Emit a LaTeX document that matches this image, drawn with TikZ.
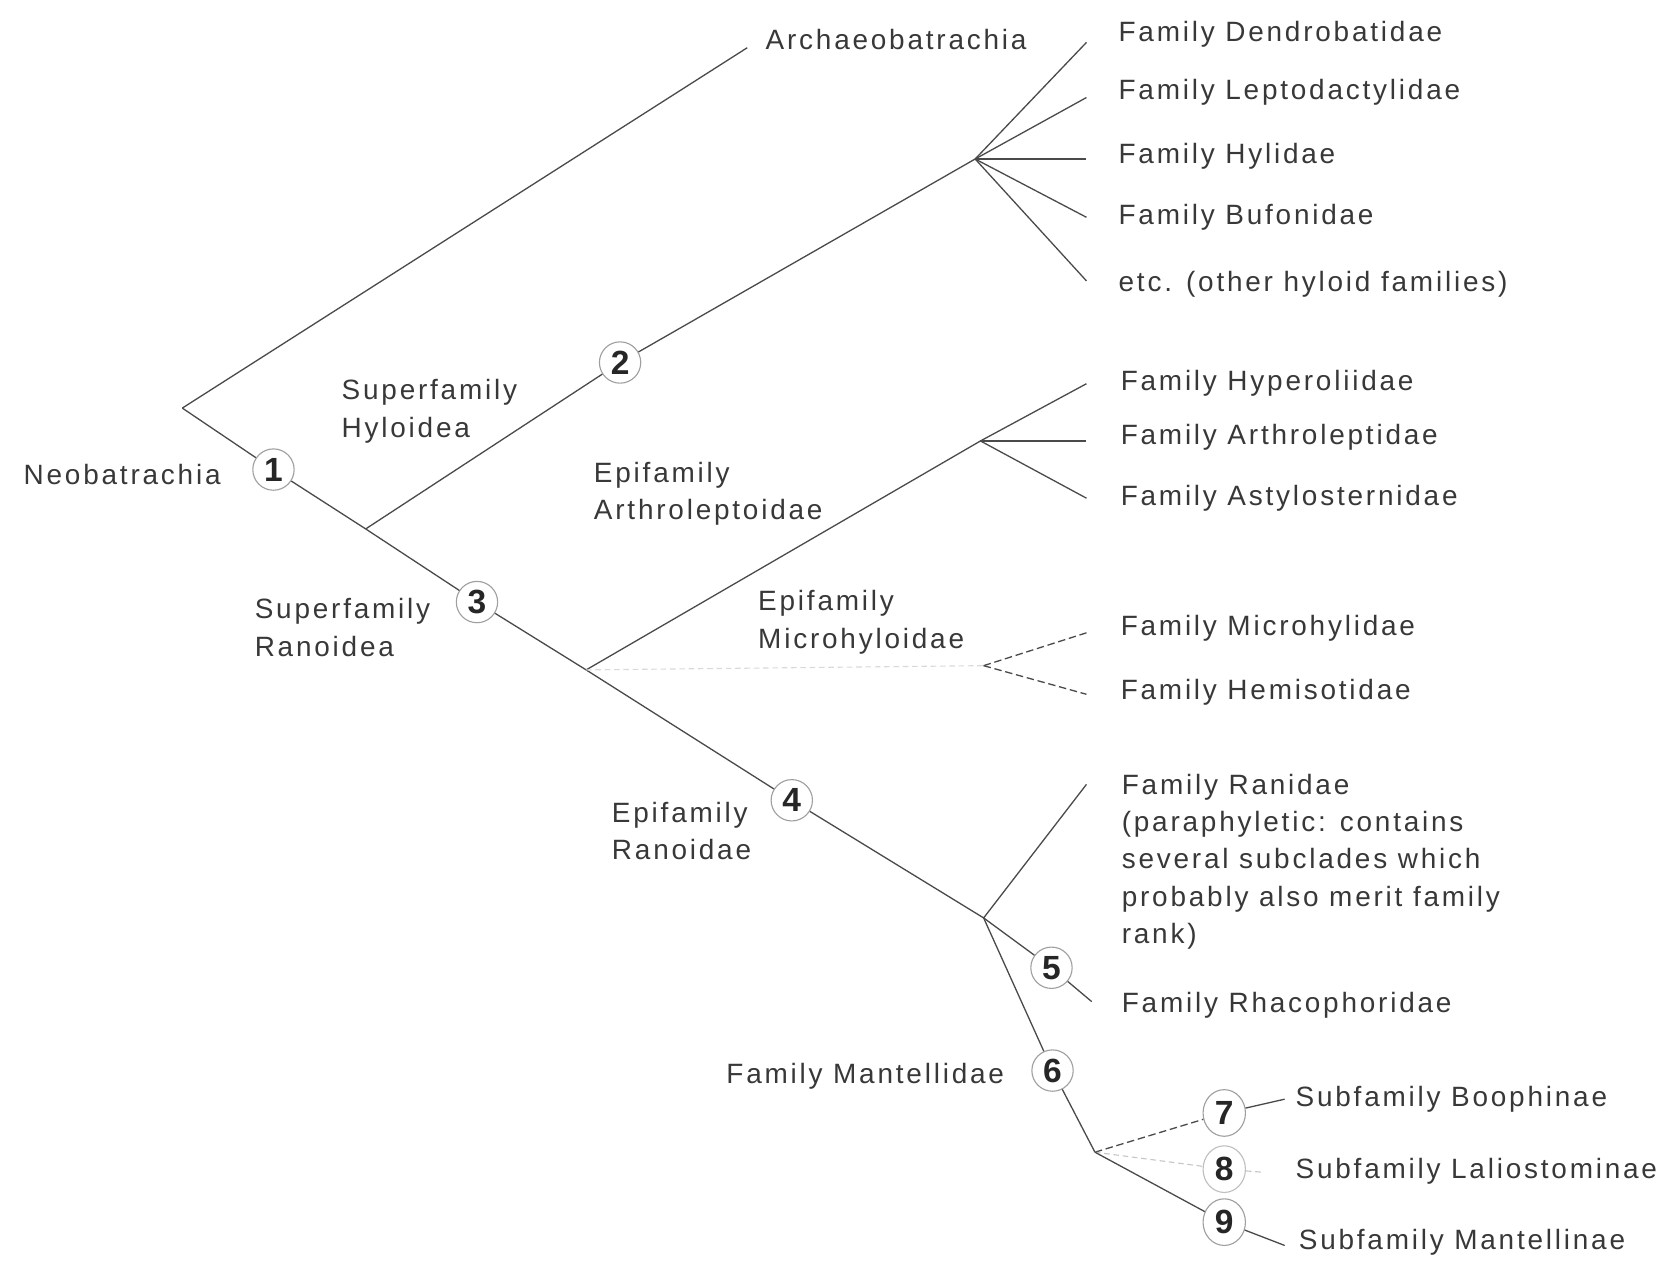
\documentclass[tikz,border=0pt]{standalone}
\usepackage{fontspec}
\newfontfamily\lblfont[LetterSpace=10]{Liberation Sans}
\usetikzlibrary{shapes.geometric}
\definecolor{inkgray}{HTML}{4A4A4A}
\definecolor{txtgray}{HTML}{383838}
\begin{document}
\begin{tikzpicture}[
  x=0.02cm, y=-0.02cm,
  branch/.style={draw=inkgray, line width=0.7pt},
  dashbranch/.style={branch, dash pattern=on 4pt off 2pt},
  faint/.style={draw=gray!45, line width=0.6pt, dash pattern=on 3pt off 2pt},
  cnode/.style={circle, draw=gray!75, line width=0.6pt, minimum size=0.78cm, inner sep=0pt,
    text=black!85, font=\lblfont\fontsize{18}{18}\selectfont\bfseries},
  oval/.style={cnode, ellipse, minimum width=0.8cm, minimum height=0.88cm},
  taxon/.style={anchor=west, inner sep=0pt, text=txtgray, align=left,
    font=\lblfont\fontsize{15}{20}\selectfont}
]
  \useasboundingbox (0,0) rectangle (1568,1191);

  \coordinate (root) at (172,385);
  \coordinate (archtip) at (705,45);
  \node[cnode] (n1) at (258,443) {1};
  \node[cnode] (n2) at (585,342) {2};
  \node[cnode] (n3) at (450,568) {3};
  \node[cnode] (n4) at (747,755) {4};
  \node[cnode] (n5) at (992,913) {5};
  \node[cnode] (n6) at (993,1010) {6};
  \node[oval] (n7) at (1155,1050) {7};
  \node[oval, draw=gray!50] (n8) at (1155,1103) {8};
  \node[oval] (n9) at (1155,1153) {9};

  \coordinate (j2) at (345,499);
  \coordinate (j3) at (553,632);
  \coordinate (j4) at (928,866);
  \coordinate (j6) at (1033,1087);
  \coordinate (hyfork) at (920,150);
  \coordinate (arfork) at (925,416);
  \coordinate (mifork) at (928,628);

  \coordinate (hy1) at (1025,40);
  \coordinate (hy2) at (1025,92);
  \coordinate (hy3) at (1025,150);
  \coordinate (hy4) at (1025,205);
  \coordinate (hy5) at (1025,265);
  \coordinate (ar1) at (1025,362);
  \coordinate (ar2) at (1025,416);
  \coordinate (ar3) at (1025,470);
  \coordinate (mi1) at (1025,597);
  \coordinate (mi2) at (1025,655);
  \coordinate (ratip) at (1025,740);
  \coordinate (rhtip) at (1030,945);
  \coordinate (bootip) at (1212,1037);
  \coordinate (laltip) at (1192,1106);
  \coordinate (mantip) at (1212,1175);

  \node[taxon] (archaeo) at (722,37) {Archaeobatrachia};
  \node[taxon] (neo) at (22,448) {Neobatrachia};
  \node[taxon] (hyloidea) at (322,388) {Superfamily\\Hyloidea};
  \node[taxon] (ranoidea) at (240,592) {Superfamily\\Ranoidea};
  \node[taxon] (arthroid) at (560,466) {Epifamily\\Arthroleptoidae};
  \node[taxon] (microid) at (715,587) {Epifamily\\Microhyloidae};
  \node[taxon] (ranoid) at (577,784) {Epifamily\\Ranoidae};
  \node[taxon] (mantellid) at (685,1015) {Family Mantellidae};

  \node[taxon] (dendro) at (1055,32) {Family Dendrobatidae};
  \node[taxon] (lepto) at (1055,87) {Family Leptodactylidae};
  \node[taxon] (hylid) at (1055,147) {Family Hylidae};
  \node[taxon] (bufo) at (1055,205) {Family Bufonidae};
  \node[taxon] (otherhy) at (1055,268) {etc. (other hyloid families)};
  \node[taxon] (hyper) at (1057,362) {Family Hyperoliidae};
  \node[taxon] (arthro) at (1057,413) {Family Arthroleptidae};
  \node[taxon] (astylo) at (1057,470) {Family Astylosternidae};
  \node[taxon] (micro) at (1057,593) {Family Microhylidae};
  \node[taxon] (hemiso) at (1057,653) {Family Hemisotidae};
  \node[taxon] (ranid) at (1058,813) {Family Ranidae\\(paraphyletic: contains\\several subclades which\\probably also merit family\\rank)};
  \node[taxon] (rhaco) at (1058,948) {Family Rhacophoridae};
  \node[taxon] (booph) at (1222,1037) {Subfamily Boophinae};
  \node[taxon] (lalio) at (1222,1105) {Subfamily Laliostominae};
  \node[taxon] (mantin) at (1225,1172) {Subfamily Mantellinae};

  \draw[branch] (root) -- (archtip);
  \draw[branch] (root) -- (n1);
  \draw[branch] (n1) -- (j2) -- (n3);
  \draw[branch] (j2) -- (n2) -- (hyfork);
  \foreach \tip in {hy1,hy2,hy3,hy4,hy5}
    \draw[branch] (hyfork) -- (\tip);
  \draw[branch] (n3) -- (j3) -- (n4);
  \draw[branch] (j3) -- (arfork);
  \foreach \tip in {ar1,ar2,ar3}
    \draw[branch] (arfork) -- (\tip);
  \draw[faint, draw=gray!30] (j3) -- (mifork);
  \draw[dashbranch] (mifork) -- (mi1);
  \draw[dashbranch] (mifork) -- (mi2);
  \draw[branch] (n4) -- (j4) -- (ratip);
  \draw[branch] (j4) -- (n5) -- (rhtip);
  \draw[branch] (j4) -- (n6) -- (j6);
  \draw[dashbranch] (j6) -- (n7);
  \draw[faint] (j6) -- (n8);
  \draw[branch] (j6) -- (n9);
  \draw[branch] (n7) -- (bootip);
  \draw[faint] (n8) -- (laltip);
  \draw[branch] (n9) -- (mantip);
\end{tikzpicture}
\end{document}
